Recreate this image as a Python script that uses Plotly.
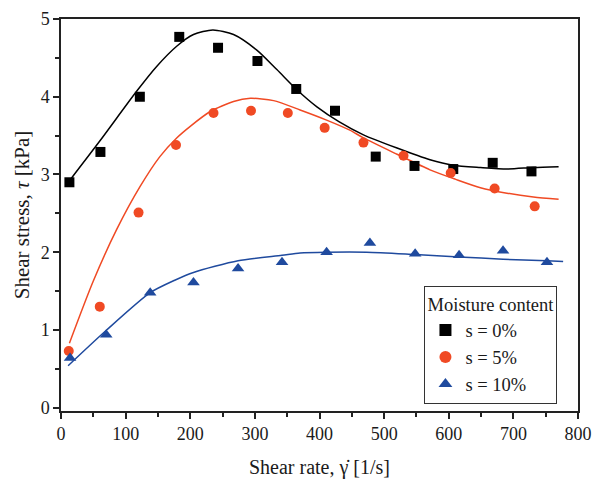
import plotly.graph_objects as go

# Measured data
x0 = [13, 61, 122, 183, 243, 304, 364, 424, 487, 547, 607, 668, 728]
y0 = [2.90, 3.29, 4.00, 4.77, 4.63, 4.46, 4.10, 3.82, 3.23, 3.11, 3.07, 3.15, 3.04]

x5 = [12, 60, 120, 178, 236, 294, 351, 408, 468, 530, 603, 671, 733]
y5 = [0.73, 1.30, 2.51, 3.38, 3.79, 3.82, 3.79, 3.60, 3.41, 3.24, 3.02, 2.82, 2.59]

x10 = [14, 70, 138, 205, 274, 342, 411, 478, 548, 616, 684, 752]
y10 = [0.64, 0.94, 1.48, 1.61, 1.79, 1.87, 2.00, 2.12, 1.98, 1.96, 2.02, 1.87]

# Fitted curves
fx0 = [14, 60, 117, 148, 179, 205, 235, 267, 303, 334, 365, 396, 430, 468, 520, 571, 607, 649, 690, 731, 770]
fy0 = [2.93, 3.43, 4.07, 4.39, 4.65, 4.80, 4.86, 4.80, 4.60, 4.35, 4.09, 3.87, 3.68, 3.51, 3.34, 3.19, 3.12, 3.09, 3.07, 3.09, 3.10]

fx5 = [13, 50, 86, 122, 153, 179, 200, 231, 267, 293, 329, 370, 411, 447, 468, 520, 571, 610, 649, 690, 731, 770]
fy5 = [0.83, 1.63, 2.29, 2.84, 3.23, 3.47, 3.62, 3.81, 3.94, 3.98, 3.95, 3.83, 3.70, 3.57, 3.47, 3.26, 3.06, 2.94, 2.83, 2.76, 2.71, 2.68]

fx10 = [11, 68, 138, 176, 205, 274, 342, 370, 411, 473, 548, 616, 684, 752, 777]
fy10 = [0.54, 0.98, 1.48, 1.64, 1.74, 1.89, 1.96, 1.99, 2.00, 2.00, 1.97, 1.94, 1.91, 1.89, 1.88]

names = ["s = 0%", "s = 5%", "s = 10%"]
colors = ["#000000", "#f04a24", "#1f4a9e"]
symbols = ["square", "circle", "triangle-up"]

fig = go.Figure()
for fx, fy, c in [(fx0, fy0, colors[0]), (fx5, fy5, colors[1]), (fx10, fy10, colors[2])]:
    fig.add_trace(go.Scatter(x=fx, y=fy, mode="lines",
                             line=dict(color=c, width=1.5, shape="spline", smoothing=0.7),
                             showlegend=False, hoverinfo="skip"))
for xs, ys, n, c, s, sz in [(x0, y0, names[0], colors[0], symbols[0], 10),
                            (x5, y5, names[1], colors[1], symbols[1], 10),
                            (x10, y10, names[2], colors[2], symbols[2], 11)]:
    fig.add_trace(go.Scatter(x=xs, y=ys, mode="markers", name=n,
                             marker=dict(color=c, symbol=s, size=sz, line=dict(width=0))))

font = "Liberation Serif, Times New Roman, serif"
ink = "#1a1a1a"
fig.update_layout(
    width=600, height=479,
    margin=dict(l=61, r=22, t=19, b=68),
    paper_bgcolor="white", plot_bgcolor="white",
    font=dict(family=font, size=18, color=ink),
    legend=dict(
        x=0.703, y=0.318, xanchor="left", yanchor="top",
        bordercolor="#333", borderwidth=1, bgcolor="white",
        title=dict(text="Moisture content", font=dict(size=18.5), side="top center"),
        font=dict(size=18.5), itemsizing="constant", tracegroupgap=0,
    ),
)
fig.update_xaxes(
    range=[0, 800], tickvals=[0, 100, 200, 300, 400, 500, 600, 700, 800],
    tickfont=dict(size=18), automargin=False,
    ticks="outside", ticklen=6, tickwidth=1.5, tickcolor="#222",
    minor=dict(ticks="outside", ticklen=4, dtick=50, tickwidth=1.5, tickcolor="#222"),
    showline=True, linecolor="#222", linewidth=1.5, mirror=True,
    showgrid=False, zeroline=False,
    title=dict(text="Shear rate, γ\u0307 [1/s]", standoff=17, font=dict(size=20)),
)
fig.update_yaxes(
    range=[-0.042, 5], tickvals=[0, 1, 2, 3, 4, 5],
    tickfont=dict(size=18), automargin=False,
    ticks="outside", ticklen=6, tickwidth=1.5, tickcolor="#222",
    minor=dict(ticks="outside", ticklen=4, dtick=0.5, tick0=0, tickwidth=1.5, tickcolor="#222"),
    showline=True, linecolor="#222", linewidth=1.5, mirror=True,
    showgrid=False, zeroline=False,
    title=dict(text="Shear stress, <i>τ</i> [kPa]", standoff=5, font=dict(size=21)),
)
fig.write_html(
    "out.html",
    config={"displayModeBar": False},
    post_script="document.body.style.margin='0';document.body.style.overflow='hidden';",
)
